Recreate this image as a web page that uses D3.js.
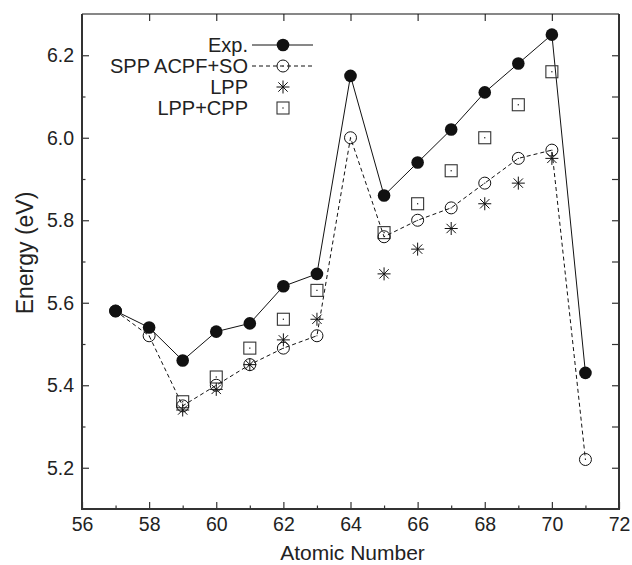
<!DOCTYPE html>
<html>
<head>
<meta charset="utf-8">
<script src="https://cdn.jsdelivr.net/npm/d3@7"></script>
<style>
  body { margin: 0; background: #fff; }
  svg { display: block; font-family: "Liberation Sans", Arial, Helvetica, sans-serif; }
</style>
</head>
<body>
<script>
// atomic numbers
const atomicNumbers = [57, 58, 59, 60, 61, 62, 63, 64, 65, 66, 67, 68, 69, 70, 71];

// Exp. (filled circles, solid line)
const expValues = [5.58, 5.54, 5.46, 5.53, 5.55, 5.64, 5.67, 6.15, 5.86, 5.94, 6.02, 6.11, 6.18, 6.25, 5.43];

// SPP ACPF+SO (open circles, dashed line)
const sppValues = [5.58, 5.52, 5.35, 5.40, 5.45, 5.49, 5.52, 6.00, 5.76, 5.80, 5.83, 5.89, 5.95, 5.97, 5.22];

// LPP and LPP+CPP exist only for some elements
const lppNumbers = [59, 60, 61, 62, 63, 65, 66, 67, 68, 69, 70];
const lppValues = [5.34, 5.39, 5.45, 5.51, 5.56, 5.67, 5.73, 5.78, 5.84, 5.89, 5.95];
const cppValues = [5.36, 5.42, 5.49, 5.56, 5.63, 5.77, 5.84, 5.92, 6.00, 6.08, 6.16];

const xMajorTicks = [56, 58, 60, 62, 64, 66, 68, 70, 72];
const xMinorTicks = [57, 59, 61, 63, 65, 67, 69, 71];
const yMajorTicks = [5.2, 5.4, 5.6, 5.8, 6.0, 6.2];
const yMinorTicks = [5.3, 5.5, 5.7, 5.9, 6.1];

const legendLabels = ["Exp.", "SPP ACPF+SO", "LPP", "LPP+CPP"];

const margin = { top: 14, right: 13, bottom: 56, left: 82 },
    width = 632 - margin.left - margin.right,
    height = 565 - margin.top - margin.bottom;

const ink = "#111";
const fontSize = 19.5;

const svg = d3.select("body").append("svg")
    .attr("width", 632)
    .attr("height", 565);

const g = svg.append("g")
    .attr("transform", `translate(${margin.left},${margin.top})`);

const x = d3.scaleLinear().domain([56, 72]).range([0, width]);
const y = d3.scaleLinear().domain([5.1, 6.3]).range([height, 0]);

// axes (ticks pointing inward)
function styleAxis(sel) {
    sel.select(".domain").remove();
    sel.selectAll("line").attr("stroke", "#333").attr("stroke-width", 1.2);
    sel.selectAll("text").attr("fill", "#222").style("font-size", fontSize + "px");
}

g.append("g")
    .attr("transform", `translate(0,${height})`)
    .call(d3.axisBottom(x).tickValues(xMajorTicks).tickSize(-7).tickPadding(8).tickFormat(d3.format("d")))
    .attr("font-family", null).attr("font-size", null)
    .call(styleAxis);

g.append("g")
    .attr("transform", `translate(0,${height})`)
    .call(d3.axisBottom(x).tickValues(xMinorTicks).tickSize(-3.5).tickFormat(""))
    .call(styleAxis);

g.append("g")
    .call(d3.axisTop(x).tickValues(xMajorTicks.slice(1, -1)).tickSize(-7).tickFormat(""))
    .call(styleAxis);

g.append("g")
    .call(d3.axisLeft(y).tickValues(yMajorTicks).tickSize(-7).tickPadding(8).tickFormat(d3.format(".1f")))
    .attr("font-family", null).attr("font-size", null)
    .call(styleAxis);

g.append("g")
    .call(d3.axisLeft(y).tickValues(yMinorTicks).tickSize(-3.5).tickFormat(""))
    .call(styleAxis);

g.append("g")
    .attr("transform", `translate(${width},0)`)
    .call(d3.axisRight(y).tickValues(yMajorTicks.concat(yMinorTicks)).tickSize(-7).tickFormat(""))
    .call(styleAxis);

// frame
g.append("path")
    .attr("d", `M0,0H${width}`)
    .attr("stroke", "#111").attr("stroke-width", 1.2).attr("fill", "none");
g.append("path")
    .attr("d", `M0,0V${height}H${width}V0`)
    .attr("stroke", "#333").attr("stroke-width", 2).attr("fill", "none");

// axis titles
svg.append("text")
    .attr("x", margin.left + width / 2 + 2)
    .attr("y", 560)
    .attr("text-anchor", "middle")
    .attr("fill", "#222")
    .style("font-size", "21px")
    .text("Atomic Number");

svg.append("text")
    .attr("transform", "translate(33,253) rotate(-90)")
    .attr("text-anchor", "middle")
    .attr("fill", "#222")
    .style("font-size", "23px")
    .text("Energy (eV)");

// marker helpers
function filledCircle(sel) {
    sel.append("circle").attr("r", 6.3).attr("fill", ink);
}
function openCircle(sel) {
    sel.append("circle").attr("r", 6).attr("fill", "none").attr("stroke", ink).attr("stroke-width", 1);
    sel.append("circle").attr("r", 0.6).attr("fill", ink);
}
function star(sel) {
    const r = 6.5, d = r * 0.72;
    sel.append("path")
        .attr("d", `M0,${-r}V${r}M${-d},${-d}L${d},${d}M${-d},${d}L${d},${-d}M${-r},0H${r}`)
        .attr("stroke", ink).attr("stroke-width", 1);
}
function square(sel) {
    sel.append("rect").attr("x", -6).attr("y", -6).attr("width", 12).attr("height", 12)
        .attr("fill", "none").attr("stroke", "#333").attr("stroke-width", 1.1);
    sel.append("rect").attr("x", -0.6).attr("y", -0.6).attr("width", 1.2).attr("height", 1.2).attr("fill", ink);
}

const expData = atomicNumbers.map((n, i) => ({ n, v: expValues[i] }));
const sppData = atomicNumbers.map((n, i) => ({ n, v: sppValues[i] }));
const lppData = lppNumbers.map((n, i) => ({ n, v: lppValues[i] }));
const cppData = lppNumbers.map((n, i) => ({ n, v: cppValues[i] }));

const line = d3.line().x(d => x(d.n)).y(d => y(d.v));

g.append("path")
    .datum(sppData)
    .attr("d", line)
    .attr("fill", "none")
    .attr("stroke", ink)
    .attr("stroke-width", 1)
    .attr("stroke-dasharray", "4,3");

g.append("path")
    .datum(expData)
    .attr("d", line)
    .attr("fill", "none")
    .attr("stroke", ink)
    .attr("stroke-width", 1);

function drawPoints(data, marker) {
    g.append("g").selectAll("g")
        .data(data)
        .join("g")
        .attr("transform", d => `translate(${x(d.n)},${y(d.v)})`)
        .each(function () { marker(d3.select(this)); });
}

drawPoints(cppData, square);
drawPoints(lppData, star);
drawPoints(sppData, openCircle);
drawPoints(expData, filledCircle);

// legend
const legendMarkers = [filledCircle, openCircle, star, square];
const legendDash = ["none", "4,3", null, null];
const legend = svg.append("g").attr("transform", "translate(0,45)");

legendLabels.forEach((label, i) => {
    const row = legend.append("g").attr("transform", `translate(0,${i * 21})`);
    row.append("text")
        .attr("x", 248)
        .attr("y", 0)
        .attr("dy", "0.35em")
        .attr("text-anchor", "end")
        .attr("fill", "#222")
        .style("font-size", "20px")
        .text(label);
    if (legendDash[i] !== null) {
        row.append("line")
            .attr("x1", 252).attr("x2", 313)
            .attr("stroke", ink).attr("stroke-width", 1)
            .attr("stroke-dasharray", legendDash[i]);
    }
    const m = row.append("g").attr("transform", "translate(283,0)");
    legendMarkers[i](m);
});
</script>
</body>
</html>
